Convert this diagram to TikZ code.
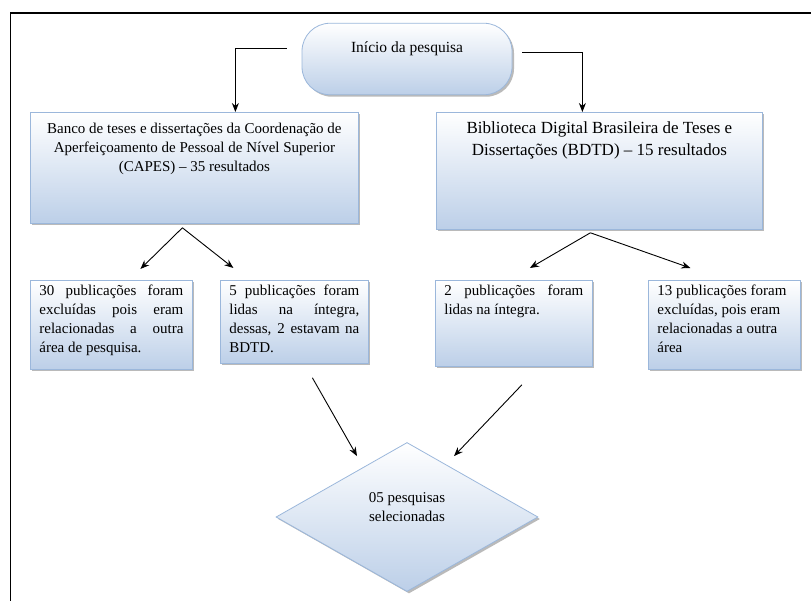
\documentclass[tikz,border=0pt]{standalone}
\usepackage{fontspec}
\setmainfont{Liberation Serif}
\usetikzlibrary{arrows.meta,shapes.geometric,shadows}

\definecolor{boxline}{HTML}{9BB7DB}
\definecolor{boxblue}{HTML}{BCCFE8}

\tikzset{
  box/.style={draw=boxline, line width=0.8pt, top color=white, bottom color=boxblue,
    anchor=north west, inner xsep=9pt, inner ysep=5pt,
    drop shadow={shadow xshift=2pt, shadow yshift=-2pt, fill=black!45, opacity=0.6},
    font=\fontsize{15}{19}\selectfont},
  seta/.style={-{Stealth[length=9pt,width=7pt]}, line width=0.9pt},
}

\begin{document}
\begin{tikzpicture}[x=1pt,y=-1pt]
\useasboundingbox (0,0) rectangle (811,601);
\draw [line width=1.6pt] (10.5,601) -- (10.5,13) -- (811,13);

\node [box, anchor=center, rounded corners=28pt, minimum width=210pt, inner ysep=14pt,
  text height=15pt, text depth=28.5pt, font=\fontsize{15.5}{19}\selectfont] (start) at (407,59) {Início da pesquisa};

\node [box, inner ysep=11pt] (capes) at (30,112) {\parbox[t][89pt][t]{310pt}{\centering
  Banco de teses e dissertações da Coordenação de\\
  Aperfeiçoamento de Pessoal de Nível Superior\\
  (CAPES) – 35 resultados}};
\node [box, inner ysep=9pt, font=\fontsize{17}{22}\selectfont] (bdtd) at (436,112) {\parbox[t][99pt][t]{308pt}{\centering
  Biblioteca Digital Brasileira de Teses e\\
  Dissertações (BDTD) – 15 resultados}};

\node [box] (pubA) at (30,280) {\parbox[t][79pt][t]{144pt}{\sloppy
  30 publicações foram\linebreak excluídas pois eram\linebreak relacionadas a outra\linebreak área de pesquisa.}};
\node [box] (pubB) at (220,280) {\parbox[t][73pt][t]{130pt}{\sloppy
  5 publicações foram\linebreak lidas na íntegra,\linebreak dessas, 2 estavam na\linebreak BDTD.}};
\node [box] (pubC) at (435,280) {\parbox[t][76pt][t]{139pt}{\sloppy
  2 publicações foram\linebreak lidas na íntegra.}};
\node [box] (pubD) at (648,280) {\parbox[t][79pt][t]{134pt}{\raggedright
  13 publicações foram\\ excluídas, pois eram\\ relacionadas a outra\\ área}};

\node [box, anchor=center, diamond, aspect=1.76, inner sep=0pt,
  minimum width=262pt, minimum height=149pt] (sel) at (407,517) {};
\node [font=\fontsize{15}{19}\selectfont, align=center] (seltext) at ([yshift=9.5pt]sel.center) {05 pesquisas\\selecionadas};

\draw [seta] ([xshift=-15pt,yshift=11pt]start.west) -| ([xshift=41pt]capes.north);
\draw [seta] ([xshift=10pt,yshift=7pt]start.east) -| ([xshift=-17pt]bdtd.north);

\coordinate (capesfork) at ([xshift=-12pt,yshift=-4pt]capes.south);
\draw [seta] (capesfork) -- ([xshift=29pt,yshift=11pt]pubA.north);
\draw [seta] (capesfork) -- ([xshift=-61pt,yshift=12pt]pubB.north);

\coordinate (bdtdfork) at ([xshift=-9pt,yshift=-3pt]bdtd.south);
\draw [seta] (bdtdfork) -- ([xshift=16pt,yshift=12pt]pubC.north);
\draw [seta] (bdtdfork) -- ([xshift=-34pt,yshift=12pt]pubD.north);

\draw [seta] ([xshift=18pt,yshift=-14pt]pubB.south) -- ([xshift=-50pt,yshift=-14pt]sel.north);
\draw [seta] ([xshift=8pt,yshift=-18pt]pubC.south) -- ([xshift=47pt,yshift=-14pt]sel.north);
\end{tikzpicture}
\end{document}
